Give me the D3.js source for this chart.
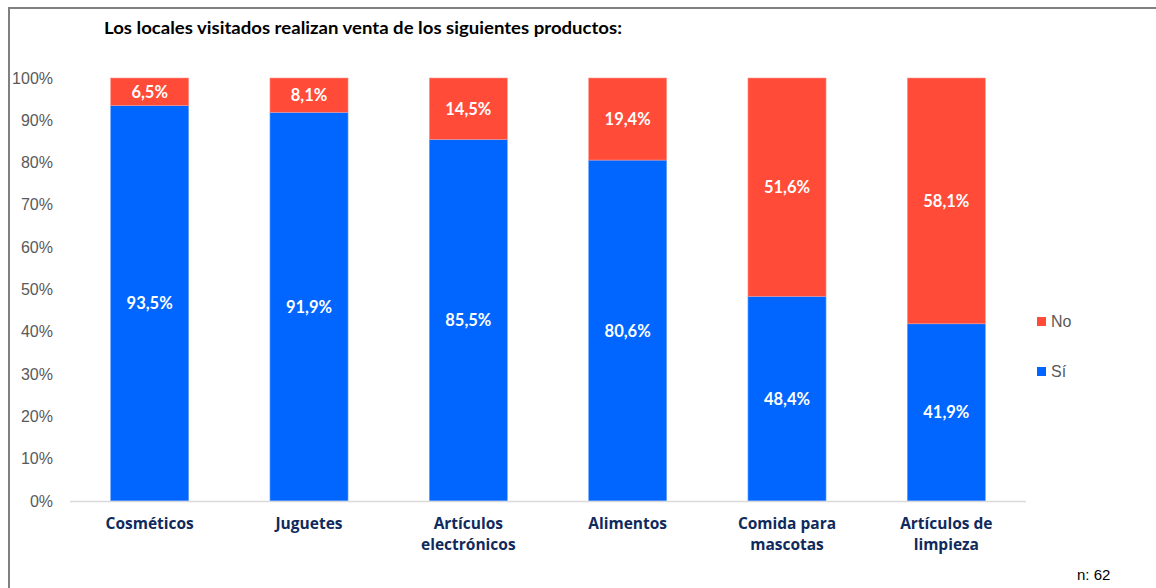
<!DOCTYPE html>
<html><head><meta charset="utf-8">
<script src="https://cdn.jsdelivr.net/npm/d3@7/dist/d3.min.js"></script>
<style>body{margin:0;background:#fff;}svg{display:block;}</style>
</head><body>
<svg id="c" width="1156" height="588"></svg>
<script>
const categories = [["Cosméticos"],["Juguetes"],["Artículos","electrónicos"],["Alimentos"],["Comida para","mascotas"],["Artículos de","limpieza"]];
const si = [93.5, 91.9, 85.5, 80.6, 48.4, 41.9];
const no = [6.5, 8.1, 14.5, 19.4, 51.6, 58.1];
const yTicks = [0,10,20,30,40,50,60,70,80,90,100];
const seriesNames = ["No","Sí"];
const colors = {"Sí":"#0066FF","No":"#FF4B38"};

const svg = d3.select("#c");
svg.append("path").attr("d","M9,588 V8 H1156").attr("fill","none").attr("stroke","#808080").attr("stroke-width",2);

const x = d3.scaleBand().domain(d3.range(categories.length)).range([70,1026]).paddingInner(0.51).paddingOuter(0.255);
const y = d3.scaleLinear().domain([0,100]).range([501,78]);

svg.append("text").attr("x",104).attr("y",34).text("Los locales visitados realizan venta de los siguientes productos:")
  .attr("font-family","Lato, 'Open Sans', sans-serif").attr("font-weight","bold").attr("font-size",17)
  .attr("textLength",518).attr("lengthAdjust","spacingAndGlyphs").attr("fill","#000");

svg.append("g").selectAll("text").data(yTicks).join("text")
  .attr("x",53).attr("y",d=>y(d)+5.5).attr("text-anchor","end")
  .attr("font-family","'Liberation Sans', Arial, sans-serif").attr("font-size",16).attr("fill","#595959")
  .text(d=>d+"%");

const fmt = v => v.toFixed(1).replace(".",",")+"%";
const g = svg.append("g");
categories.forEach((c,i)=>{
  const s = si[i], n = no[i];
  g.append("rect").attr("x",x(i)).attr("width",x.bandwidth()).attr("y",y(s)).attr("height",y(0)-y(s)).attr("fill",colors["Sí"]).attr("stroke","#6fa8ff").attr("stroke-width",0.6);
  g.append("rect").attr("x",x(i)).attr("width",x.bandwidth()).attr("y",y(s+n)).attr("height",y(s)-y(s+n)).attr("fill",colors["No"]).attr("stroke","#ff9a8e").attr("stroke-width",0.6);
  const lf = "Lato, 'Open Sans', sans-serif";
  g.append("text").attr("x",x(i)+x.bandwidth()/2).attr("y",(y(s)+y(0))/2+6).attr("text-anchor","middle")
    .attr("font-family",lf).attr("font-weight","bold").attr("font-size",16.5).attr("fill","#fff").text(fmt(s));
  g.append("text").attr("x",x(i)+x.bandwidth()/2).attr("y",(y(s)+y(s+n))/2+6).attr("text-anchor","middle")
    .attr("font-family",lf).attr("font-weight","bold").attr("font-size",16.5).attr("fill","#fff").text(fmt(n));
  const t = svg.append("text").attr("text-anchor","middle").attr("font-family","'Open Sans', Roboto, sans-serif").attr("font-weight","bold").attr("font-size",15.5).attr("fill","#0f2a5c");
  c.forEach((line,k)=>t.append("tspan").attr("x",x(i)+x.bandwidth()/2).attr("y",529+k*21).text(line));
});
svg.append("line").attr("x1",70).attr("x2",1026).attr("y1",501.5).attr("y2",501.5).attr("stroke","#d9d9d9").attr("stroke-width",1.5);

const lg = svg.append("g");
seriesNames.forEach((nme,k)=>{
  const yy = 317 + k*50;
  lg.append("rect").attr("x",1037).attr("y",yy).attr("width",9).attr("height",9).attr("fill",colors[nme]);
  lg.append("text").attr("x",1051).attr("y",yy+10).text(nme).attr("font-family","'Liberation Sans', Arial, sans-serif").attr("font-size",16).attr("fill","#595959");
});
svg.append("text").attr("x",1077).attr("y",580).text("n: 62").attr("font-family","'Liberation Sans', Arial, sans-serif").attr("font-size",15).attr("fill","#000");
</script>
</body></html>
